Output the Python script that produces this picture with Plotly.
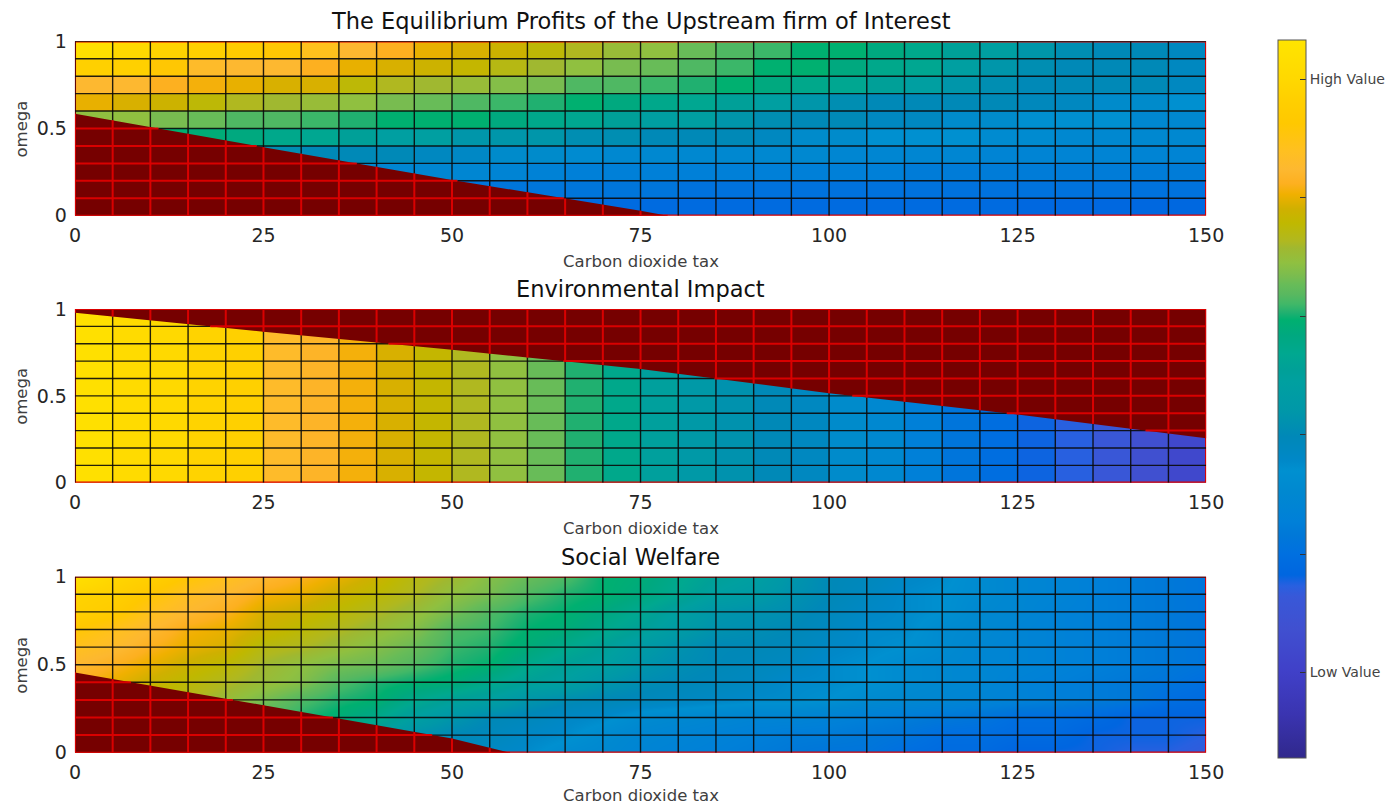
import numpy as np
import plotly.graph_objects as go

# ---------------------------------------------------------------- data
tax = [0, 5, 10, 15, 20, 25, 30, 35, 40, 45, 50, 55, 60, 65, 70, 75,
       80, 85, 90, 95, 100, 105, 110, 115, 120, 125, 130, 135, 140, 145, 150]
omega = [0.0, 0.1, 0.2, 0.3, 0.4, 0.5, 0.6, 0.7, 0.8, 0.9, 1.0]

# Upstream firm profits, one value per grid cell (rows: omega 0-0.1 ... 0.9-1.0)
profit_cells = [
    [27, 27, 27, 27, 27, 27, 27, 27, 27, 27, 27, 27, 27, 27, 27, 27, 27, 27, 27, 27, 27, 27, 27, 27, 27, 26, 26, 26, 26, 26],
    [31, 31, 31, 31, 31, 31, 31, 31, 31, 30, 30, 30, 30, 30, 30, 30, 29, 29, 29, 29, 29, 29, 29, 29, 29, 29, 29, 29, 29, 29],
    [40, 40, 40, 40, 40, 40, 38, 37, 36, 36, 36, 35, 34, 33, 33, 33, 33, 33, 33, 33, 33, 33, 32, 32, 32, 32, 32, 32, 32, 32],
    [48, 47, 46, 46, 46, 46, 45, 45, 45, 43, 42, 41, 41, 38, 37, 37, 37, 37, 37, 37, 36, 36, 36, 36, 35, 35, 35, 35, 35, 35],
    [62, 61, 61, 60, 59, 57, 56, 54, 52, 52, 48, 48, 48, 46, 46, 45, 45, 45, 43, 41, 41, 40, 40, 40, 38, 38, 37, 37, 37, 37],
    [69, 69, 67, 66, 64, 64, 63, 62, 61, 61, 61, 59, 57, 56, 54, 52, 52, 48, 46, 45, 45, 43, 43, 41, 41, 40, 40, 40, 37, 37],
    [78, 77, 76, 74, 72, 71, 70, 69, 67, 66, 64, 63, 62, 61, 59, 57, 56, 54, 52, 48, 46, 45, 45, 45, 45, 44, 43, 41, 41, 40],
    [82, 82, 80, 79, 78, 77, 77, 74, 72, 71, 70, 68, 67, 64, 64, 63, 62, 61, 59, 57, 56, 54, 52, 48, 46, 45, 45, 45, 45, 43],
    [92, 92, 88, 83, 82, 82, 80, 78, 77, 76, 75, 73, 71, 69, 67, 66, 64, 63, 61, 61, 59, 57, 56, 52, 48, 46, 45, 45, 45, 43],
    [98, 95, 93, 92, 90, 88, 85, 82, 80, 78, 77, 76, 74, 72, 70, 69, 66, 64, 63, 61, 61, 59, 57, 54, 52, 48, 46, 45, 45, 43],
]

# Environmental impact, one value per tax interval (constant over omega)
impact_by_tax = [98, 96, 95, 93, 92, 83, 81, 79, 77, 75, 72, 69, 66, 62, 57,
                 53, 49, 47, 45, 43, 41, 37, 33, 30, 28, 25, 24, 22, 18, 15]

# Social welfare at the grid nodes (rows: omega 0.0 ... 1.0)
welfare_nodes = [
    [74, 72, 70, 66, 63, 61, 59, 54, 48, 45, 44, 42, 41, 38, 37, 35, 34, 33, 32, 31, 30, 30, 28, 27, 27, 25, 25, 25, 24, 24, 23],
    [76, 73, 71, 68, 64, 62, 61, 57, 52, 47, 45, 44, 42, 41, 38, 36, 35, 34, 33, 32, 32, 31, 30, 28, 28, 27, 27, 25, 25, 25, 24],
    [77, 75, 72, 70, 67, 64, 62, 60, 57, 52, 48, 45, 44, 42, 41, 38, 37, 36, 35, 35, 34, 33, 32, 31, 30, 28, 28, 27, 25, 25, 25],
    [78, 77, 74, 72, 70, 67, 64, 62, 61, 57, 54, 52, 48, 46, 45, 44, 43, 42, 41, 41, 40, 38, 37, 36, 35, 34, 33, 32, 31, 28, 27],
    [80, 78, 76, 74, 72, 70, 68, 64, 62, 61, 60, 57, 54, 52, 48, 46, 45, 44, 43, 41, 41, 40, 38, 37, 36, 34, 33, 32, 31, 30, 28],
    [82, 80, 78, 76, 74, 71, 69, 67, 66, 64, 62, 61, 57, 54, 52, 48, 46, 45, 44, 43, 41, 40, 38, 37, 36, 35, 34, 33, 32, 31, 30],
    [85, 83, 80, 78, 77, 73, 72, 70, 68, 66, 63, 62, 60, 57, 54, 50, 47, 45, 45, 44, 42, 41, 40, 38, 36, 35, 34, 33, 32, 31, 30],
    [88, 85, 82, 79, 78, 76, 74, 72, 70, 68, 64, 63, 61, 60, 57, 54, 50, 47, 46, 45, 43, 41, 41, 38, 37, 35, 34, 33, 32, 31, 30],
    [92, 90, 85, 82, 80, 77, 76, 74, 72, 70, 67, 64, 62, 61, 59, 56, 52, 48, 47, 46, 44, 42, 41, 40, 37, 36, 34, 33, 32, 31, 30],
    [93, 92, 88, 84, 82, 79, 78, 76, 74, 72, 69, 67, 64, 62, 61, 59, 56, 52, 50, 47, 45, 43, 41, 40, 38, 36, 35, 33, 32, 31, 30],
    [98, 94, 92, 88, 85, 82, 80, 78, 76, 73, 71, 68, 66, 64, 61, 60, 57, 54, 52, 48, 45, 44, 42, 41, 38, 36, 35, 33, 32, 31, 30],
]

# Feasibility boundaries (infeasible region shown in dark red)
profit_bound_tax = [0, 25, 50, 75, 78.6]
profit_bound_omega = [0.585, 0.393, 0.205, 0.028, 0.0]
impact_bound_tax = [0, 25, 50, 75, 100, 125, 150]
impact_bound_omega = [0.979, 0.869, 0.765, 0.655, 0.515, 0.393, 0.256]
welfare_bound_tax = [0, 25, 50, 57.7]
welfare_bound_omega = [0.455, 0.27, 0.08, 0.0]

panel_titles = ["The Equilibrium Profits of the Upstream firm of Interest",
                "Environmental Impact", "Social Welfare"]
x_title = "Carbon dioxide tax"
y_title = "omega"
x_ticks = [0, 25, 50, 75, 100, 125, 150]
y_ticks = [0, 0.5, 1]
y_tick_text = ["0", "0.5", "1"]
cbar_ticks = [11.9, 28.4, 45, 61.5, 78, 94.5]
cbar_text = ["Low Value", "", "", "", "", "High Value"]

# ---------------------------------------------------------------- style
W, H = 1391, 807
FONT = "DejaVu Sans"
TXT = "#262626"
DARK_RED = "#760000"
EDGE_RED = "#DA0000"
EDGE_BLACK = "rgba(10,10,10,0.9)"

colorscale = [
    [0.000, "#30288C"], [0.060, "#3A34B0"], [0.120, "#4040C8"], [0.180, "#4050D0"],
    [0.225, "#3858D8"], [0.240, "#2860E0"], [0.255, "#0066E0"], [0.285, "#0070E0"],
    [0.310, "#0078D8"], [0.330, "#0080D8"], [0.370, "#0088D0"], [0.400, "#0090D0"],
    [0.415, "#0088C8"], [0.430, "#0088C0"], [0.448, "#0088B8"], [0.465, "#0090B0"],
    [0.486, "#0098A8"], [0.524, "#00A0A0"], [0.540, "#00A098"], [0.563, "#00A890"],
    [0.575, "#00A888"], [0.588, "#00A880"], [0.610, "#00B070"], [0.620, "#20B070"],
    [0.632, "#40B868"], [0.645, "#58B860"], [0.660, "#68BC58"], [0.670, "#78BC50"],
    [0.690, "#90C040"], [0.710, "#A0B830"], [0.720, "#B0B820"], [0.745, "#C0B800"],
    [0.765, "#D0B000"], [0.775, "#E0B000"], [0.785, "#F0B000"], [0.800, "#FDB020"],
    [0.820, "#FDB830"], [0.846, "#FFC020"], [0.884, "#FFC800"], [0.920, "#FFD000"],
    [0.945, "#FFD800"], [0.980, "#FFE000"], [1.000, "#FFE400"],
]

# panel placement in pixels (left, right, top, bottom)
px_left, px_right = 75, 1207
panel_px = [(41.3, 215.7), (309.0, 482.7), (576.7, 752.7)]
x_title_shift = [-34, -34, -31]


def seg_trace(segs, color, width, xa, ya):
    xs, ys = [], []
    for (x0, y0, x1, y1) in segs:
        xs += [x0, x1, None]
        ys += [y0, y1, None]
    return go.Scatter(x=xs, y=ys, mode="lines", line=dict(color=color, width=width),
                      hoverinfo="skip", showlegend=False, cliponaxis=False,
                      xaxis=xa, yaxis=ya)


def grid_segments(bx, by, below):
    """Split grid lines into feasible (black) and infeasible (red) pieces."""
    bx = np.asarray(bx, float)
    by = np.asarray(by, float)
    xmax, ymax = tax[-1], omega[-1]

    def b(x):
        return float(np.interp(x, bx, by, right=0.0))

    def xb(w):
        return float(np.interp(w, by[::-1], bx[::-1]))

    black, red = [], []
    for x in tax:
        v = b(x)
        if below:
            if v > 0:
                red.append((x, 0, x, v))
            if x < xmax:
                black.append((x, v, x, ymax))
        else:
            red.append((x, v, x, ymax))
            if x < xmax:
                black.append((x, 0, x, v))
    for w in omega:
        if below:
            if w < by[0]:
                xi = xb(w)
                red.append((0, w, xi, w))
                if w > 0:
                    black.append((xi, w, xmax, w))
            elif w > 0:
                black.append((0, w, xmax, w))
        else:
            if w >= by[0]:
                red.append((0, w, xmax, w))
            elif w > by[-1]:
                xi = xb(w)
                red.append((xi, w, xmax, w))
                if w > 0:
                    black.append((0, w, xi, w))
            elif w > 0:
                black.append((0, w, xmax, w))
    if below:
        poly_x = [0] + list(bx) + [bx[-1], 0]
        poly_y = [0] + list(by) + [0, 0]
    else:
        poly_x = [0] + list(bx) + [xmax, 0]
        poly_y = [ymax] + list(by) + [ymax, ymax]
    return black, red, poly_x, poly_y


fig = go.Figure()

impact_cells = [list(impact_by_tax) for _ in range(len(omega) - 1)]
surfaces = [
    dict(z=profit_cells, smooth=False, bx=profit_bound_tax, by=profit_bound_omega, below=True),
    dict(z=impact_cells, smooth=False, bx=impact_bound_tax, by=impact_bound_omega, below=False),
    dict(z=welfare_nodes, smooth=True, bx=welfare_bound_tax, by=welfare_bound_omega, below=True),
]

for i, s in enumerate(surfaces):
    xa = "x" if i == 0 else f"x{i + 1}"
    ya = "y" if i == 0 else f"y{i + 1}"
    fig.add_trace(go.Heatmap(x=tax, y=omega, z=s["z"],
                             zsmooth="best" if s["smooth"] else False,
                             coloraxis="coloraxis", hoverinfo="skip",
                             xaxis=xa, yaxis=ya))
    # frame of the underlying infeasible surface
    fig.add_trace(go.Scatter(x=[0, tax[-1], tax[-1], 0, 0], y=[0, 0, 1, 1, 0],
                             mode="lines", line=dict(color=EDGE_RED, width=2.2),
                             hoverinfo="skip", showlegend=False, cliponaxis=False,
                             xaxis=xa, yaxis=ya))
    black, red, px_, py_ = grid_segments(s["bx"], s["by"], s["below"])
    fig.add_trace(seg_trace(black, EDGE_BLACK, 1.4, xa, ya))
    fig.add_trace(go.Scatter(x=px_, y=py_, mode="lines", fill="toself",
                             fillcolor=DARK_RED, line=dict(width=0, color=DARK_RED),
                             hoverinfo="skip", showlegend=False, xaxis=xa, yaxis=ya))
    fig.add_trace(seg_trace(red, EDGE_RED, 2.0, xa, ya))

layout = dict(
    width=W, height=H, margin=dict(l=0, r=0, t=0, b=0),
    paper_bgcolor="white", plot_bgcolor="white", showlegend=False,
    font=dict(family=FONT, color=TXT),
    coloraxis=dict(
        colorscale=colorscale, cmin=0, cmax=100,
        colorbar=dict(
            x=1278 / W, xanchor="left", y=1 - 399 / H, yanchor="middle",
            len=718 / H, lenmode="fraction", thickness=28, thicknessmode="pixels",
            xpad=0, ypad=0, outlinewidth=1, outlinecolor="#555555",
            ticks="inside", ticklen=6, tickcolor="#333333", tickwidth=1,
            tickvals=cbar_ticks, ticktext=cbar_text,
            tickfont=dict(family=FONT, size=14, color="#444444"),
        ),
    ),
)

annotations = []
xdom = [px_left / W, px_right / W]
for i, (top, bot) in enumerate(panel_px):
    ydom = [1 - bot / H, 1 - top / H]
    sx = "" if i == 0 else str(i + 1)
    layout[f"xaxis{sx}"] = dict(
        domain=xdom, range=[0, 150], anchor=f"y{sx}", tickvals=x_ticks,
        showgrid=False, zeroline=False, showline=False, ticks="",
        tickfont=dict(family=FONT, size=19, color=TXT), automargin=False,
        fixedrange=True, ticklabelstandoff=6,
    )
    layout[f"yaxis{sx}"] = dict(
        domain=ydom, range=[0, 1], anchor=f"x{sx}", tickvals=y_ticks,
        ticktext=y_tick_text, showgrid=False, zeroline=False, showline=False,
        ticks="", tickfont=dict(family=FONT, size=19, color=TXT),
        automargin=False, fixedrange=True, ticklabelstandoff=7,
    )
    xc = (xdom[0] + xdom[1]) / 2
    annotations.append(dict(text=panel_titles[i], x=xc, y=ydom[1], xref="paper",
                            yref="paper", xanchor="center", yanchor="bottom",
                            yshift=5, showarrow=False,
                            font=dict(family=FONT, size=22.5, color="#111111")))
    annotations.append(dict(text=x_title, x=xc, y=ydom[0], xref="paper",
                            yref="paper", xanchor="center", yanchor="top",
                            yshift=x_title_shift[i], showarrow=False,
                            font=dict(family=FONT, size=16.5, color="#404040")))
    annotations.append(dict(text=y_title, x=22 / W, y=(ydom[0] + ydom[1]) / 2,
                            xref="paper", yref="paper", xanchor="center",
                            yanchor="middle", textangle=-90, showarrow=False,
                            font=dict(family=FONT, size=16.5, color="#404040")))
layout["annotations"] = annotations
fig.update_layout(**layout)

fig.write_html("out.html")
